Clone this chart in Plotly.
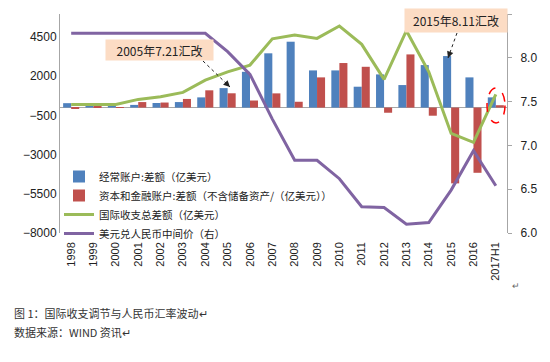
import plotly.graph_objects as go

categories = ["1998", "1999", "2000", "2001", "2002", "2003", "2004", "2005", "2006", "2007",
              "2008", "2009", "2010", "2011", "2012", "2013", "2014", "2015", "2016", "2017H1"]
current_account = [280, 150, 200, 170, 290, 350, 650, 1240, 2280, 3460,
                   4200, 2370, 2370, 1330, 2115, 1435, 2710, 3285, 1925, 650]
capital_financial = [-80, 50, 20, 350, 320, 550, 1100, 910, 450, 905,
                     370, 1925, 2840, 2600, -330, 3390, -520, -4835, -4160, 150]
total_balance = [200, 200, 200, 520, 690, 970, 1750, 2280, 2710, 4380,
                 4620, 4410, 5200, 4030, 1800, 4900, 2280, -1650, -2220, 840]
usd_cny = [8.28, 8.28, 8.28, 8.28, 8.28, 8.28, 8.28, 8.07, 7.81, 7.30,
           6.83, 6.83, 6.62, 6.30, 6.29, 6.10, 6.12, 6.49, 6.94, 6.54]

left_ticks = [-8000, -5500, -3000, -500, 2000, 4500]
right_ticks = [6.0, 6.5, 7.0, 7.5, 8.0, 8.5]

names = ["经常账户:差额（亿美元）",
         "资本和金融账户:差额（不含储备资产/（亿美元））",
         "国际收支总差额（亿美元）",
         "美元兑人民币中间价（右）"]

# page is offset by the default 8px body margin
OFF = 8
W, H = 550 - OFF, 362 - OFF
L, R, T, B = 60, 507, 14, 233   # plot area in page pixels


def px(x):
    return (x - L) / (R - L)


def py(y):
    return (B - y) / (B - T)


fig = go.Figure()
fig.add_trace(go.Bar(x=categories, y=current_account, name=names[0],
                     marker=dict(color="#4F81BD", line=dict(width=0))))
fig.add_trace(go.Bar(x=categories, y=capital_financial, name=names[1],
                     marker=dict(color="#C0504D", line=dict(width=0))))
fig.add_trace(go.Scatter(x=categories, y=total_balance, name=names[2], mode="lines",
                         line=dict(color="#9BBB59", width=3)))
fig.add_trace(go.Scatter(x=categories, y=usd_cny, name=names[3], mode="lines", yaxis="y2",
                         line=dict(color="#8064A2", width=3)))

font_main = "Liberation Sans, Arial, sans-serif"
font_cjk = "Noto Sans CJK SC, sans-serif"

fig.update_layout(
    width=W, height=H,
    margin=dict(l=L - OFF, r=W - (R - OFF), t=T - OFF, b=H - (B - OFF), pad=0),
    paper_bgcolor="white", plot_bgcolor="white",
    barmode="group", bargap=0.28, bargroupgap=0,
    showlegend=True,
    legend=dict(x=px(59), y=py(162), xanchor="left", yanchor="top",
                bgcolor="rgba(255,255,255,0)", font=dict(family=font_cjk, size=10.5, color="#222"),
                traceorder="normal", tracegroupgap=0, itemwidth=30),
    font=dict(family=font_main, size=11, color="#222"),
    xaxis=dict(type="category", tickangle=-90, showline=False, ticks="", showgrid=False,
               ticklabelstandoff=6,
               tickfont=dict(family=font_main, size=11, color="#222")),
    yaxis=dict(range=[-8000, 5967], tickvals=left_ticks, showgrid=False,
               zeroline=True, zerolinecolor="#A6A6A6", zerolinewidth=1,
               showline=True, linecolor="#A6A6A6", linewidth=1, ticks="",
               tickfont=dict(family=font_main, size=12, color="#222")),
    yaxis2=dict(range=[6.0, 8.5], tickvals=right_ticks, tickformat=".1f", overlaying="y",
                side="right", showgrid=False, zeroline=False, showline=True,
                linecolor="#A6A6A6", linewidth=1, ticks="outside", ticklen=4,
                tickcolor="#A6A6A6", ticklabelstandoff=6,
                tickfont=dict(family=font_main, size=12, color="#222")),
)

# annotation boxes
fig.add_annotation(xref="paper", yref="paper", x=px(159.5), y=py(50),
                   xanchor="center", yanchor="middle",
                   text="2005年7.21汇改", showarrow=False, bgcolor="#FCDCC4",
                   font=dict(family=font_cjk, size=12, color="#222"),
                   borderpad=0, width=107, height=20)
fig.add_annotation(xref="paper", yref="paper", x=px(456), y=py(20.5),
                   xanchor="center", yanchor="middle",
                   text="2015年8.11汇改", showarrow=False, bgcolor="#FCDCC4",
                   font=dict(family=font_cjk, size=12, color="#222"),
                   borderpad=0, width=102, height=23)

# dashed arrows: dashed line + arrow head
arrows = [((203, 61), (230, 87)), ((457, 33), (448, 58))]
for (x0, y0), (x1, y1) in arrows:
    fig.add_shape(type="line", xref="paper", yref="paper",
                  x0=px(x0), y0=py(y0), x1=px(x1), y1=py(y1),
                  line=dict(color="#222", width=1, dash="dot"))
    dx, dy = x0 - x1, y0 - y1
    n = (dx * dx + dy * dy) ** 0.5
    fig.add_annotation(xref="paper", yref="paper", x=px(x1), y=py(y1),
                       ax=dx / n * 7, ay=dy / n * 7, axref="pixel", ayref="pixel",
                       text="", showarrow=True, arrowhead=2, arrowsize=1.3, arrowwidth=1,
                       arrowcolor="#222")

# dashed ellipse
fig.add_shape(type="circle", xref="paper", yref="paper",
              x0=px(487), x1=px(505), y0=py(123), y1=py(88),
              line=dict(color="#FF0000", width=1.5, dash="dash"))

# captions
fig.add_annotation(xref="paper", yref="paper", x=px(12), y=py(313),
                   xanchor="left", yanchor="middle",
                   text="图 1：国际收支调节与人民币汇率波动↵", showarrow=False,
                   font=dict(family=font_cjk, size=11, color="#333"))
fig.add_annotation(xref="paper", yref="paper", x=px(12), y=py(332),
                   xanchor="left", yanchor="middle",
                   text="数据来源：WIND 资讯↵", showarrow=False,
                   font=dict(family=font_cjk, size=11, color="#333"))
fig.add_annotation(xref="paper", yref="paper", x=px(516), y=py(285),
                   xanchor="center", yanchor="middle",
                   text="↵", showarrow=False,
                   font=dict(family=font_cjk, size=9, color="#666"))

fig.write_html("out.html")
